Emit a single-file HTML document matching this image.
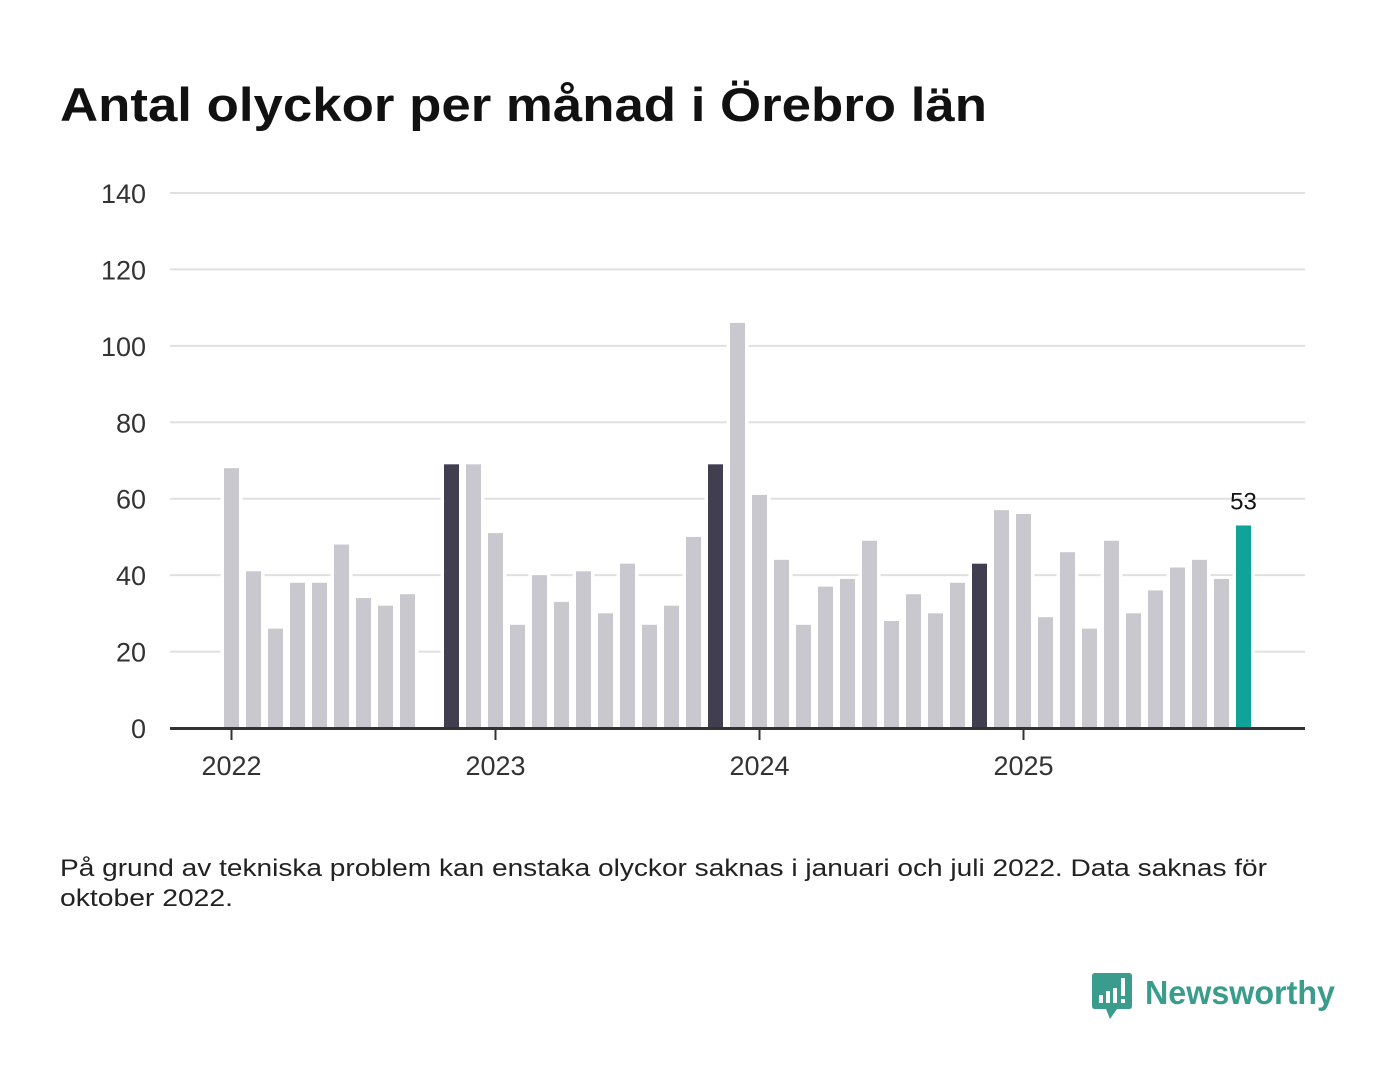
<!DOCTYPE html>
<html><head><meta charset="utf-8"><style>
body{margin:0;background:#fff;width:1400px;height:1080px;overflow:hidden;font-family:"Liberation Sans","DejaVu Sans",sans-serif;}
</style></head><body>
<svg width="1400" height="1080" xmlns="http://www.w3.org/2000/svg">
<text x="60" y="121" font-size="47" font-weight="bold" fill="#111" textLength="927" lengthAdjust="spacingAndGlyphs">Antal olyckor per månad i Örebro län</text>
<g id="grid"></g><g id="bars"></g><g id="axes"></g>
<text x="60" y="876" font-size="24" fill="#222" textLength="1207" lengthAdjust="spacingAndGlyphs">På grund av tekniska problem kan enstaka olyckor saknas i januari och juli 2022. Data saknas för</text>
<text x="60" y="906" font-size="24" fill="#222" textLength="173" lengthAdjust="spacingAndGlyphs">oktober 2022.</text>
<g>
<path d="M1095 973h34q3 0 3 3v30q0 3-3 3h-12l-7 10-4-10h-11q-3 0-3-3v-30q0-3 3-3z" fill="#3a9c8c"/>
<rect x="1099" y="995" width="4" height="8" fill="#fff"/><rect x="1106" y="991" width="4" height="12" fill="#fff"/><rect x="1113" y="988" width="4" height="15" fill="#fff"/><rect x="1121" y="978" width="4" height="18" fill="#fff"/><rect x="1121" y="999" width="4" height="4" fill="#fff"/>
<text x="1145" y="1004" font-size="33" fill="#3a9c8c" font-weight="bold" textLength="190" lengthAdjust="spacingAndGlyphs">Newsworthy</text>
</g>
</svg>
<script>
const months=["2022-01","2022-02","2022-03","2022-04","2022-05","2022-06","2022-07","2022-08","2022-09","2022-10","2022-11","2022-12","2023-01","2023-02","2023-03","2023-04","2023-05","2023-06","2023-07","2023-08","2023-09","2023-10","2023-11","2023-12","2024-01","2024-02","2024-03","2024-04","2024-05","2024-06","2024-07","2024-08","2024-09","2024-10","2024-11","2024-12","2025-01","2025-02","2025-03","2025-04","2025-05","2025-06","2025-07","2025-08","2025-09","2025-10","2025-11"];
const values=[68,41,26,38,38,48,34,32,35,null,69,69,51,27,40,33,41,30,43,27,32,50,69,106,61,44,27,37,39,49,28,35,30,38,43,57,56,29,46,26,49,30,36,42,44,39,53];
const yTicks=[0,20,40,60,80,100,120,140];
const yearLabels=["2022","2023","2024","2025"];
const NS="http://www.w3.org/2000/svg";
const y=v=>728-v*(535/140);
const x=i=>231.5+i*22;
function mk(tag,attrs,parent){const e=document.createElementNS(NS,tag);for(const k in attrs)e.setAttribute(k,attrs[k]);parent.appendChild(e);return e;}
const grid=document.getElementById('grid'),bars=document.getElementById('bars'),axes=document.getElementById('axes');
yTicks.forEach(t=>{
  if(t>0){const l=mk('line',{x1:170,x2:1305,y1:y(t),y2:y(t),stroke:'#e0e0e0','stroke-width':2},grid);
  
  }
  const tx=mk('text',{x:146,y:y(t)+10,'font-size':27,fill:'#333','text-anchor':'end'},axes);
  tx.textContent=t;
  
  
});
const last=values.length-1;
values.forEach((v,i)=>{
  if(v===null)return;
  const mo=months[i].slice(5);
  const col=i===last?'#0fa399':(mo==='11'?'#403e4f':'#c8c8ce');
  mk('rect',{x:x(i)-11,y:y(v)-3,width:22,height:728-y(v)+3,fill:'#fff'},bars);
  const r=mk('rect',{x:x(i)-7.5,y:y(v),width:15,height:728-y(v),fill:col},bars);
  
  
});
const lab=mk('text',{x:x(last),y:y(values[last])-16,'font-size':24,fill:'#111','text-anchor':'middle'},axes);
lab.textContent=values[last];


const ax=mk('line',{x1:170,x2:1305,y1:728.5,y2:728.5,stroke:'#333','stroke-width':3},axes);


yearLabels.forEach((yr,k)=>{
  const i=months.indexOf(yr+'-01');
  mk('line',{x1:x(i),x2:x(i),y1:728,y2:740,stroke:'#333','stroke-width':2},axes);
  const t=mk('text',{x:x(i),y:775,'font-size':27,fill:'#333','text-anchor':'middle'},axes);
  t.textContent=yr;
  
  
});
</script>
</body></html>
